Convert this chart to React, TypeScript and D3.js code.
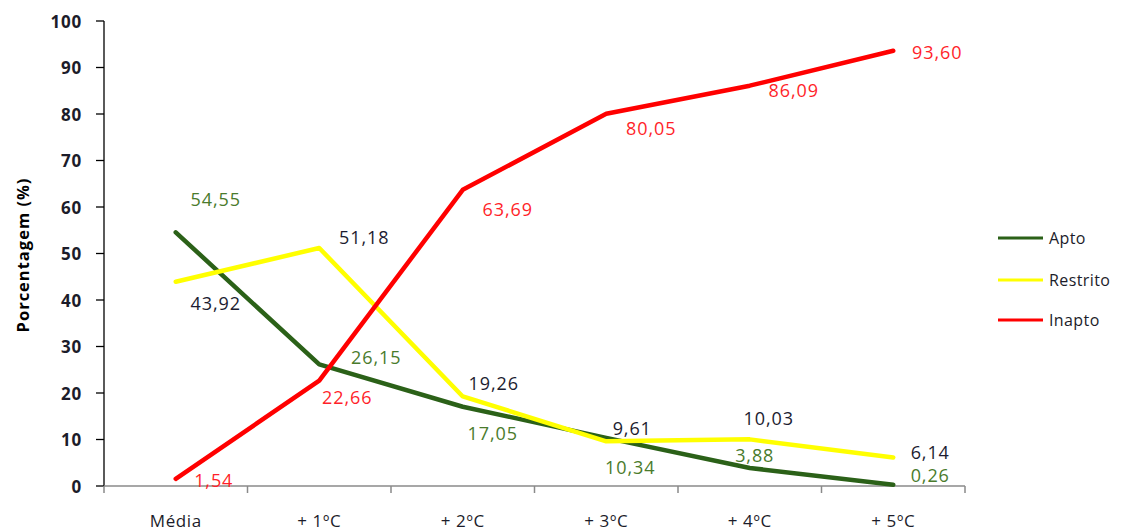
import React from "react";
import * as d3 from "d3";

const categories = ["Média", "+ 1ºC", "+ 2ºC", "+ 3ºC", "+ 4ºC", "+ 5ºC"];
const apto = [54.55, 26.15, 17.05, 10.34, 3.88, 0.26];
const restrito = [43.92, 51.18, 19.26, 9.61, 10.03, 6.14];
const inapto = [1.54, 22.66, 63.69, 80.05, 86.09, 93.6];
const yTicks = [0, 10, 20, 30, 40, 50, 60, 70, 80, 90, 100];

// label offsets (px) relative to each point: [dx, dy]
const aptoOffsets = [[40, -33], [57, -7], [30, 26], [24, 29], [5, -13], [37, -10]];
const restritoOffsets = [[40, 21], [45, -11], [31, -13], [26, -13], [19, -21], [37, -5]];
const inaptoOffsets = [[38, 1], [28, 16], [45, 19], [45, 14], [44, 4], [44, 1]];

const W = 1122;
const H = 531;
const left = 104;
const right = 965;
const top = 21;
const bottom = 486;

const series = [
  { name: "Apto", values: apto, offsets: aptoOffsets, color: "#2b6118", labelColor: "#4a7b2c", legendY: 238 },
  { name: "Restrito", values: restrito, offsets: restritoOffsets, color: "#ffff00", labelColor: "#1c1c30", legendY: 280 },
  { name: "Inapto", values: inapto, offsets: inaptoOffsets, color: "#ff0000", labelColor: "#ff1f2a", legendY: 320 },
];

const fmt = (v: number) => v.toFixed(2).replace(".", ",");

export default function App() {
  const x = d3.scaleBand<string>().domain(categories).range([left, right]);
  const y = d3.scaleLinear().domain([0, 100]).range([bottom, top]);
  const cx = (c: string) => (x(c) as number) + x.bandwidth() / 2;
  const line = d3
    .line<number>()
    .x((_, i) => cx(categories[i]))
    .y((d) => y(d))
    .curve(d3.curveLinear);

  const font = "'Open Sans', 'DejaVu Sans', sans-serif";
  const boundaries = categories.map((c) => x(c) as number).concat([right]);

  return (
    <svg
      width={W}
      height={H}
      style={{ position: "absolute", left: 0, top: 0, background: "#fff" }}
      fontFamily={font}
    >
      {/* y axis */}
      <line x1={left} x2={left} y1={top} y2={bottom} stroke="#000" strokeWidth={1.3} />
      {yTicks.map((t) => (
        <g key={t}>
          <line x1={left - 8} x2={left} y1={y(t)} y2={y(t)} stroke="#000" strokeWidth={1.3} />
          <text
            x={82}
            y={y(t)}
            textAnchor="end"
            dominantBaseline="central"
            fontSize={17}
            fontWeight="bold"
            letterSpacing={0.8}
            fill="#1c1c2a"
          >
            {t}
          </text>
        </g>
      ))}
      <text
        transform={`translate(22,${(172 + 338) / 2}) rotate(-90)`}
        textAnchor="middle"
        dominantBaseline="central"
        fontSize={16.5}
        fontWeight="bold"
        letterSpacing={1}
        fill="#000"
      >
        Porcentagem (%)
      </text>

      {/* x axis */}
      <line x1={left} x2={right} y1={bottom} y2={bottom} stroke="#8a8a8a" strokeWidth={1.5} />
      {boundaries.map((b, i) => (
        <line key={i} x1={b} x2={b} y1={bottom} y2={bottom + 7} stroke="#8a8a8a" strokeWidth={1.5} />
      ))}
      {categories.map((c) => (
        <text
          key={c}
          x={cx(c)}
          y={527}
          textAnchor="middle"
          fontSize={17}
          letterSpacing={0.6}
          fill="#1c1c2a"
        >
          {c}
        </text>
      ))}

      {/* lines */}
      {series.map((s) => (
        <path
          key={s.name}
          d={line(s.values) as string}
          fill="none"
          stroke={s.color}
          strokeWidth={4.5}
          strokeLinejoin="round"
          strokeLinecap="round"
        />
      ))}

      {/* data labels */}
      {series.map((s) =>
        s.values.map((v, i) => (
          <text
            key={s.name + i}
            x={cx(categories[i]) + s.offsets[i][0]}
            y={y(v) + s.offsets[i][1]}
            textAnchor="middle"
            dominantBaseline="central"
            fontSize={18}
            letterSpacing={0.9}
            fill={s.labelColor}
          >
            {fmt(v)}
          </text>
        ))
      )}

      {/* legend */}
      {series.map((s) => (
        <g key={"lg" + s.name}>
          <line x1={998} x2={1043} y1={s.legendY} y2={s.legendY} stroke={s.color} strokeWidth={3} />
          <text
            x={1049}
            y={s.legendY}
            dominantBaseline="central"
            fontSize={16}
            letterSpacing={0.4}
            fill="#1c1c2a"
          >
            {s.name}
          </text>
        </g>
      ))}
    </svg>
  );
}
